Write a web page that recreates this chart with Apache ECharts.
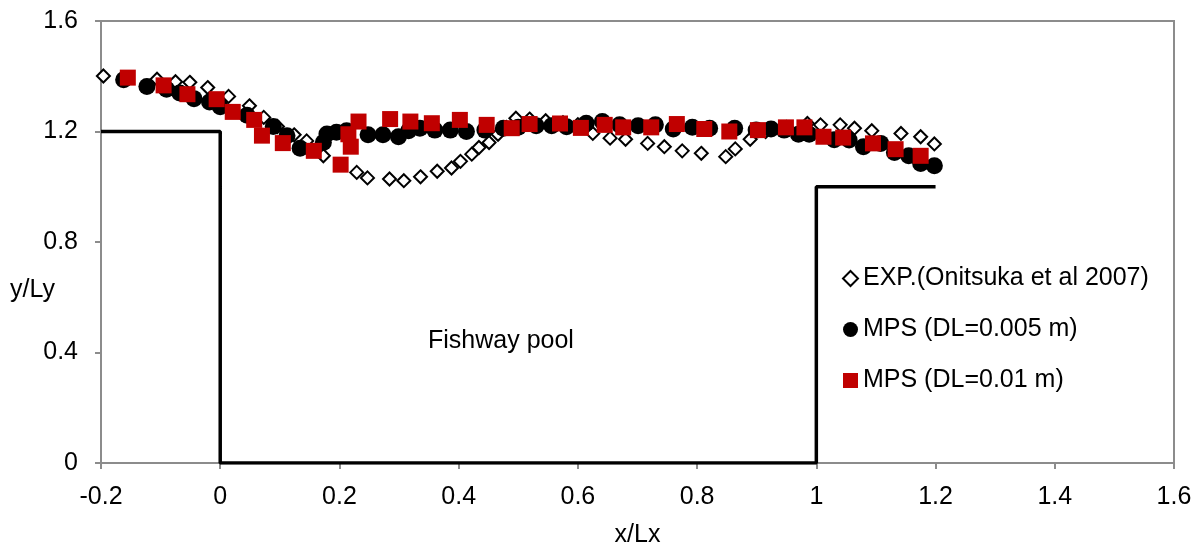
<!DOCTYPE html>
<html>
<head>
<meta charset="utf-8">
<script src="https://cdn.jsdelivr.net/npm/echarts@6/dist/echarts.min.js"></script>
<style>
  html, body { margin: 0; padding: 0; background: #fff; }
  #chart { width: 1198px; height: 546px; }
</style>
</head>
<body>
<div id="chart"></div>
<script>
// 实验数据 EXP.(Onitsuka et al 2007)
const expData = [
  [-0.196, 1.401], [-0.106, 1.389], [-0.075, 1.380], [-0.051, 1.378], [-0.021, 1.359],
  [0.014, 1.327], [0.049, 1.293], [0.073, 1.251], [0.096, 1.218], [0.124, 1.188],
  [0.145, 1.166], [0.173, 1.112], [0.229, 1.052], [0.247, 1.032], [0.284, 1.028],
  [0.308, 1.022], [0.336, 1.036], [0.364, 1.056], [0.388, 1.068], [0.403, 1.092],
  [0.422, 1.118], [0.434, 1.142], [0.451, 1.160], [0.466, 1.190], [0.480, 1.215],
  [0.496, 1.248], [0.519, 1.245], [0.546, 1.239], [0.575, 1.232], [0.600, 1.225],
  [0.625, 1.193], [0.654, 1.176], [0.680, 1.172], [0.717, 1.157], [0.745, 1.145],
  [0.775, 1.130], [0.807, 1.121], [0.848, 1.109], [0.864, 1.137], [0.889, 1.172],
  [0.915, 1.200], [0.950, 1.215], [0.985, 1.229], [1.007, 1.224], [1.040, 1.224],
  [1.064, 1.212], [1.093, 1.203], [1.142, 1.193], [1.175, 1.181], [1.198, 1.155]
]

// MPS (DL=0.005 m)
const mps005 = [
  [-0.162, 1.387], [-0.123, 1.363], [-0.090, 1.353], [-0.068, 1.339], [-0.044, 1.319],
  [-0.018, 1.307], [0.000, 1.290], [0.045, 1.259], [0.089, 1.218], [0.112, 1.185],
  [0.134, 1.139], [0.173, 1.160], [0.179, 1.191], [0.195, 1.197], [0.212, 1.203],
  [0.248, 1.188], [0.273, 1.188], [0.299, 1.181], [0.316, 1.203], [0.335, 1.212],
  [0.360, 1.205], [0.386, 1.205], [0.413, 1.200], [0.444, 1.205], [0.475, 1.212],
  [0.500, 1.215], [0.530, 1.221], [0.556, 1.221], [0.581, 1.217], [0.614, 1.230],
  [0.641, 1.236], [0.670, 1.224], [0.701, 1.221], [0.730, 1.224], [0.760, 1.209],
  [0.792, 1.215], [0.821, 1.212], [0.863, 1.212], [0.899, 1.205], [0.924, 1.209],
  [0.946, 1.205], [0.970, 1.190], [0.988, 1.190], [1.030, 1.170], [1.055, 1.169],
  [1.079, 1.145], [1.108, 1.157], [1.131, 1.124], [1.155, 1.112], [1.175, 1.084],
  [1.198, 1.076]
]

// MPS (DL=0.01 m)
const mps001 = [
  [-0.155, 1.395], [-0.095, 1.367], [-0.055, 1.335], [-0.006, 1.317], [0.021, 1.271],
  [0.057, 1.242], [0.070, 1.185], [0.105, 1.158], [0.157, 1.130], [0.202, 1.080],
  [0.215, 1.190], [0.219, 1.145], [0.232, 1.236], [0.285, 1.245], [0.319, 1.236],
  [0.355, 1.230], [0.402, 1.242], [0.447, 1.224], [0.489, 1.212], [0.519, 1.227],
  [0.570, 1.229], [0.605, 1.213], [0.645, 1.224], [0.676, 1.215], [0.723, 1.215],
  [0.766, 1.227], [0.812, 1.209], [0.854, 1.200], [0.902, 1.205], [0.949, 1.215],
  [0.980, 1.215], [1.012, 1.181], [1.045, 1.178], [1.095, 1.157], [1.133, 1.136],
  [1.175, 1.112]
]

// 鱼道池轮廓
const poolOutline = [[-0.2, 1.2], [0, 1.2], [0, 0], [1, 0], [1, 1.0], [1.2, 1.0]]

const font = 'Liberation Sans, Arial, sans-serif'
const axisGray = '#8c8c8c'

const myChart = echarts.init(document.getElementById('chart'))

myChart.setOption({
  animation: false,
  textStyle: { fontFamily: font },
  grid: {
    left: 101,
    right: 24,
    top: 21,
    bottom: 83,
    outerBoundsMode: 'none',
    containLabel: false,
    show: true,
    borderColor: axisGray,
    borderWidth: 2
  },
  legend: {
    orient: 'vertical',
    left: 837,
    top: 261,
    itemWidth: 15,
    itemHeight: 15,
    itemGap: 26,
    textStyle: { fontSize: 25, color: '#000', fontFamily: font },
    data: ['EXP.(Onitsuka et al 2007)', 'MPS (DL=0.005 m)', 'MPS (DL=0.01 m)']
  },
  xAxis: {
    type: 'value',
    min: -0.2,
    max: 1.6,
    interval: 0.2,
    name: 'x/Lx',
    nameLocation: 'middle',
    nameGap: 60,
    nameTextStyle: { fontSize: 25, color: '#000' },
    axisLine: { onZero: false, lineStyle: { color: axisGray, width: 2 } },
    axisTick: { show: true, length: 6, lineStyle: { color: axisGray, width: 2 } },
    axisLabel: { fontSize: 25, color: '#000', margin: 22 },
    splitLine: { show: false }
  },
  yAxis: {
    type: 'value',
    min: 0,
    max: 1.6,
    interval: 0.4,
    axisLine: { show: true, onZero: false, lineStyle: { color: axisGray, width: 2 } },
    axisTick: { show: true, length: 6, lineStyle: { color: axisGray, width: 2 } },
    axisLabel: { fontSize: 25, color: '#000', margin: 23 },
    splitLine: { show: false }
  },
  graphic: [
    {
      type: 'text',
      left: 10,
      top: 278,
      style: { text: 'y/Ly', font: '25px ' + font, fill: '#000' }
    },
    {
      type: 'text',
      left: 428,
      top: 329,
      style: { text: 'Fishway pool', font: '25px ' + font, fill: '#000' }
    }
  ],
  series: [
    {
      name: 'pool',
      type: 'line',
      data: poolOutline,
      symbol: 'none',
      lineStyle: { color: '#000', width: 3.5 },
      z: 1
    },
    {
      name: 'EXP.(Onitsuka et al 2007)',
      type: 'scatter',
      symbol: 'diamond',
      symbolSize: 13,
      data: expData,
      itemStyle: { color: '#fff', borderColor: '#000', borderWidth: 2, opacity: 1 },
      z: 2
    },
    {
      name: 'MPS (DL=0.005 m)',
      type: 'scatter',
      symbol: 'circle',
      symbolSize: 17,
      data: mps005,
      itemStyle: { color: '#000', opacity: 1 },
      z: 3
    },
    {
      name: 'MPS (DL=0.01 m)',
      type: 'scatter',
      symbol: 'rect',
      symbolSize: 16,
      data: mps001,
      itemStyle: { color: '#c00000', opacity: 1 },
      z: 4
    }
  ]
})
</script>
</body>
</html>
